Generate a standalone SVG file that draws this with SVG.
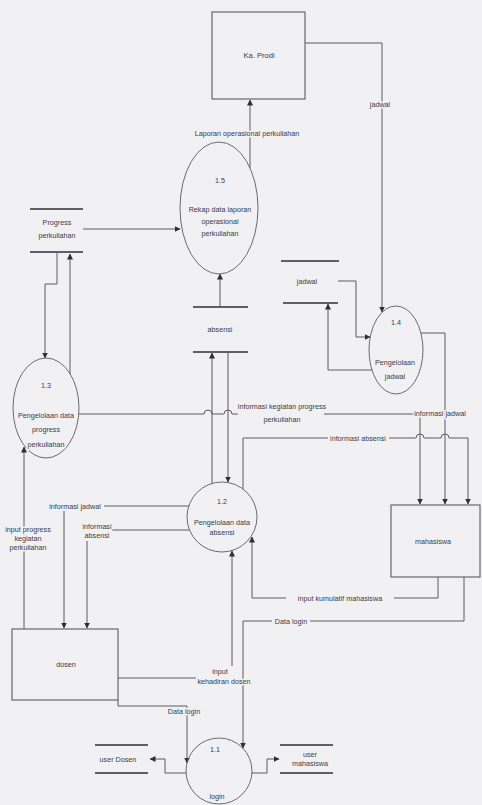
<svg xmlns="http://www.w3.org/2000/svg" width="482" height="805" viewBox="0 0 482 805">
<style>
.ln{fill:none;stroke:#5a5a62;stroke-width:1}
.st{stroke:#2e2e38;stroke-width:1.4}
.bx{fill:none;stroke:#5a5a62;stroke-width:1.1}
.pr{fill:none;stroke:#6a6a72;stroke-width:1}
text{font-family:"Liberation Sans",Arial,sans-serif;font-size:7.2px;fill:#3a3a48;text-anchor:middle;paint-order:stroke;stroke:#f1f1f3;stroke-width:3px;stroke-linejoin:round}
</style>
<defs>
<marker id="ah" markerWidth="6" markerHeight="6" refX="5.5" refY="3" orient="auto" markerUnits="userSpaceOnUse">
<path d="M0,0 L6,3 L0,6 z" fill="#2e2e38"/>
</marker>
</defs>
<rect width="482" height="805" fill="#f1f1f3"/>

<g id="connectors" marker-end="url(#ah)">
<path class="ln" d="M305,43 H382 V312" marker-end="url(#ah)"/>
<path class="ln" d="M250,168 V100" marker-end="url(#ah)"/>
<path class="ln" d="M83,229 H180" marker-end="url(#ah)"/>
<path class="ln" d="M220,307 V274" marker-end="url(#ah)"/>
<path class="ln" d="M338,281 H356 V337 H370" marker-end="url(#ah)"/>
<path class="ln" d="M372,370 H328 V304" marker-end="url(#ah)"/>
<path class="ln" d="M421,333 H445 V504" marker-end="url(#ah)"/>
<path class="ln" d="M57,253 V284 H45 V358" marker-end="url(#ah)"/>
<path class="ln" d="M70,374 V254" marker-end="url(#ah)"/>
<path class="ln" d="M79,414 H204 a4,4 0 0 1 8,0 H224 a4,4 0 0 1 8,0 H238 M324,414 H420 V504" marker-end="url(#ah)"/>
<path class="ln" d="M212,484 V353" marker-end="url(#ah)"/>
<path class="ln" d="M228,353 V482" marker-end="url(#ah)"/>
<path class="ln" d="M243,489 V438 H328 M389,438 H416 a4,4 0 0 1 8,0 H441 a4,4 0 0 1 8,0 H468 V504" marker-end="url(#ah)"/>
<path class="ln" d="M189,506 H104 M64,511 V628" marker-end="url(#ah)"/>
<path class="ln" d="M190,530 H112 M87,541 V628" marker-end="url(#ah)"/>
<path class="ln" d="M24,629 V447" marker-end="url(#ah)"/>
<path class="ln" d="M438,577 V598 H394 M286,598 H252 V537" marker-end="url(#ah)"/>
<path class="ln" d="M464,577 V621 H310 M272,621 H243 V748" marker-end="url(#ah)"/>
<path class="ln" d="M118,678 H196 M232,666 V551" marker-end="url(#ah)"/>
<path class="ln" d="M118,700 V706 H187 V763" marker-end="url(#ah)"/>
<path class="ln" d="M186,773 H165 V759 H150" marker-end="url(#ah)"/>
<path class="ln" d="M252,773 H267 V759 H279" marker-end="url(#ah)"/>
</g>

<g id="flow-labels">
<text x="380" y="107">jadwal</text>
<text x="247" y="136">Laporan operasional perkuliahan</text>
<text x="282" y="409">informasi kegiatan progress</text>
<text x="282" y="422">perkuliahan</text>
<text x="440" y="416">informasi jadwal</text>
<text x="358" y="441">informasi absensi</text>
<text x="75" y="509">informasi jadwal</text>
<text x="97" y="529">informasi</text>
<text x="97" y="538">absensi</text>
<text x="28" y="532">input progress</text>
<text x="28" y="541">kegiatan</text>
<text x="28" y="550">perkuliahan</text>
<text x="340" y="601">input kumulatif mahasiswa</text>
<text x="291" y="624">Data login</text>
<text x="220" y="674">input</text>
<text x="224" y="684">kehadiran dosen</text>
<text x="184" y="714">Data login</text>
</g>

<g id="kaprodi">
<rect class="bx" x="212" y="12" width="93" height="87"/>
<text x="259" y="58" style="font-size:7.6px">Ka. Prodi</text>
</g>

<g id="p15">
<ellipse class="pr" cx="219" cy="208" rx="39" ry="66"/>
<text x="220" y="183">1.5</text>
<text x="220" y="212">Rekap data laporan</text>
<text x="220" y="224">operasional</text>
<text x="220" y="236">perkuliahan</text>
</g>

<g id="progress-store">
<line class="st" x1="30" y1="209" x2="83" y2="209"/>
<line class="st" x1="30" y1="252" x2="83" y2="252"/>
<text x="57" y="225">Progress</text>
<text x="57" y="238">perkuliahan</text>
</g>

<g id="absensi-store">
<line class="st" x1="193" y1="307" x2="248" y2="307"/>
<line class="st" x1="193" y1="352" x2="248" y2="352"/>
<text x="220" y="332">absensi</text>
</g>

<g id="jadwal-store">
<line class="st" x1="281" y1="261" x2="339" y2="261"/>
<line class="st" x1="283" y1="303" x2="338" y2="303"/>
<text x="307" y="284">jadwal</text>
</g>

<g id="p14">
<ellipse class="pr" cx="396" cy="350" rx="27" ry="44"/>
<text x="396" y="325">1.4</text>
<text x="395" y="365">Pengelolaan</text>
<text x="395" y="379">jadwal</text>
</g>

<g id="p13">
<ellipse class="pr" cx="46" cy="408" rx="33" ry="50"/>
<text x="46" y="388">1.3</text>
<text x="46" y="418">Pengelolaan data</text>
<text x="46" y="432">progress</text>
<text x="46" y="447">perkuliahan</text>
</g>

<g id="p12">
<circle class="pr" cx="222" cy="517" r="35"/>
<text x="222" y="504">1.2</text>
<text x="222" y="525">Pengelolaan data</text>
<text x="222" y="535">absensi</text>
</g>

<g id="mahasiswa">
<rect class="bx" x="391" y="505" width="89" height="72"/>
<text x="433" y="544">mahasiswa</text>
</g>

<g id="dosen">
<rect class="bx" x="12" y="629" width="106" height="71"/>
<text x="66" y="667">dosen</text>
</g>

<g id="p11">
<circle class="pr" cx="219" cy="771" r="33"/>
<text x="215" y="752">1.1</text>
<text x="217" y="799">login</text>
</g>

<g id="userdosen-store">
<line class="st" x1="95" y1="745" x2="148" y2="745"/>
<line class="st" x1="95" y1="773" x2="148" y2="773"/>
<text x="118" y="762">user Dosen</text>
</g>

<g id="usermhs-store">
<line class="st" x1="280" y1="745" x2="333" y2="745"/>
<line class="st" x1="280" y1="773" x2="333" y2="773"/>
<text x="310" y="757">user</text>
<text x="310" y="766">mahasiswa</text>
</g>
</svg>
